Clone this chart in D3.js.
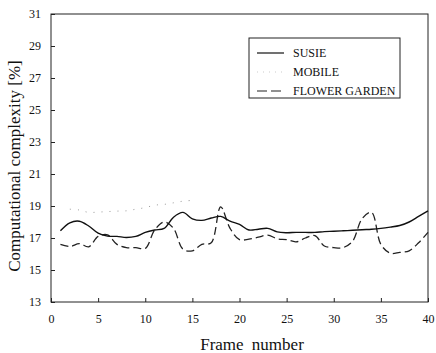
<!DOCTYPE html>
<html>
<head>
<meta charset="utf-8">
<script src="https://cdn.jsdelivr.net/npm/d3@7"></script>
<style>
  body { margin: 0; background: #fff; }
  svg text { font-family: "Liberation Serif", "Times New Roman", serif; fill: #111; }
</style>
</head>
<body>
<svg id="chart" width="436" height="353"></svg>
<script>
// frames 1..40
var frames = d3.range(1, 41);
var susie = [17.45, 17.95, 18.05, 17.75, 17.3, 17.12, 17.1, 17.03, 17.1, 17.35,
             17.5, 17.6, 18.3, 18.6, 18.2, 18.1, 18.25, 18.35, 18.05, 17.85,
             17.5, 17.55, 17.6, 17.38, 17.33, 17.35, 17.35, 17.35, 17.4, 17.42,
             17.45, 17.48, 17.52, 17.55, 17.6, 17.68, 17.78, 18.0, 18.35, 18.7];
var flowerGarden = [16.6, 16.47, 16.65, 16.45, 17.1, 17.2, 16.6, 16.4, 16.4, 16.35,
                    17.5, 18.0, 17.6, 16.3, 16.2, 16.6, 16.7, 18.95, 17.6, 16.9,
                    16.93, 17.05, 17.18, 16.95, 16.9, 16.76, 17.0, 17.15, 16.5, 16.4,
                    16.4, 16.8, 18.2, 18.6, 16.6, 16.05, 16.1, 16.2, 16.7, 17.35];
// mobile is only faintly visible for the first frames
var mobileFrames = [2, 3, 4, 5, 6, 7, 8, 9, 10, 11, 12, 13, 14, 15];
var mobile = [18.8, 18.75, 18.6, 18.62, 18.65, 18.68, 18.7, 18.8, 18.9, 19.05, 19.1, 19.2, 19.3, 19.35];

var xTicks = [0, 5, 10, 15, 20, 25, 30, 35, 40];
var yTicks = [13, 15, 17, 19, 21, 23, 25, 27, 29, 31];
var legendNames = ["SUSIE", "MOBILE", "FLOWER GARDEN"];

var serif = "'Liberation Serif', 'Times New Roman', serif";
var svg = d3.select("#chart");
var plotL = 51, plotR = 428, plotT = 14, plotB = 302;

var x = d3.scaleLinear().domain([0, 40]).range([plotL, plotR]);
var y = d3.scaleLinear().domain([13, 31]).range([plotB, plotT]);

// frame
svg.append("rect")
    .attr("x", plotL).attr("y", plotT)
    .attr("width", plotR - plotL).attr("height", plotB - plotT)
    .attr("fill", "none").attr("stroke", "#222").attr("stroke-width", 1);

var xAxis = svg.append("g")
    .attr("transform", "translate(0," + plotB + ")")
    .call(d3.axisBottom(x).tickValues(xTicks).tickSizeInner(-4).tickSizeOuter(0).tickPadding(12));
var yAxis = svg.append("g")
    .attr("transform", "translate(" + plotL + ",0)")
    .call(d3.axisLeft(y).tickValues(yTicks).tickSizeInner(-4).tickSizeOuter(0).tickPadding(10));

[xAxis, yAxis].forEach(function (g) {
    g.attr("font-family", serif);
    g.select(".domain").remove();
    g.selectAll("line").attr("stroke", "#222");
    g.selectAll("text").attr("font-size", 12).attr("fill", "#111");
});

// axis labels
svg.append("text")
    .attr("x", 252).attr("y", 350)
    .attr("text-anchor", "middle")
    .attr("font-family", serif)
    .attr("font-size", 17)
    .attr("word-spacing", 4)
    .text("Frame number");

svg.append("text")
    .attr("transform", "translate(20,166) rotate(-90)")
    .attr("text-anchor", "middle")
    .attr("font-family", serif)
    .attr("font-size", 17)
    .text("Computational complexity [%]");

var line = d3.line()
    .x(function (d) { return x(d[0]); })
    .y(function (d) { return y(d[1]); })
    .curve(d3.curveCatmullRom.alpha(0.5));

svg.append("path")
    .datum(d3.zip(mobileFrames, mobile))
    .attr("d", line)
    .attr("fill", "none")
    .attr("stroke", "#999")
    .attr("stroke-width", 1)
    .attr("stroke-dasharray", "1,7");

svg.append("path")
    .datum(d3.zip(frames, flowerGarden))
    .attr("d", line)
    .attr("fill", "none")
    .attr("stroke", "#222")
    .attr("stroke-width", 1.3)
    .attr("stroke-dasharray", "8,4");

svg.append("path")
    .datum(d3.zip(frames, susie))
    .attr("d", line)
    .attr("fill", "none")
    .attr("stroke", "#111")
    .attr("stroke-width", 1.4);

// legend
var legend = svg.append("g");
legend.append("rect")
    .attr("x", 249).attr("y", 38)
    .attr("width", 151).attr("height", 60)
    .attr("fill", "#fff").attr("stroke", "#222").attr("stroke-width", 1);

var styles = [
    { stroke: "#111", dash: null },
    { stroke: "#ccc", dash: "1,5" },
    { stroke: "#222", dash: "10,4" }
];
legendNames.forEach(function (name, i) {
    var ly = 53 + i * 19;
    legend.append("line")
        .attr("x1", 257).attr("x2", 284)
        .attr("y1", ly).attr("y2", ly)
        .attr("stroke", styles[i].stroke)
        .attr("stroke-width", 1.2)
        .attr("stroke-dasharray", styles[i].dash);
    legend.append("text")
        .attr("x", 293).attr("y", ly + 4)
        .attr("font-family", serif)
        .attr("font-size", 12)
        .text(name);
});
</script>
</body>
</html>
